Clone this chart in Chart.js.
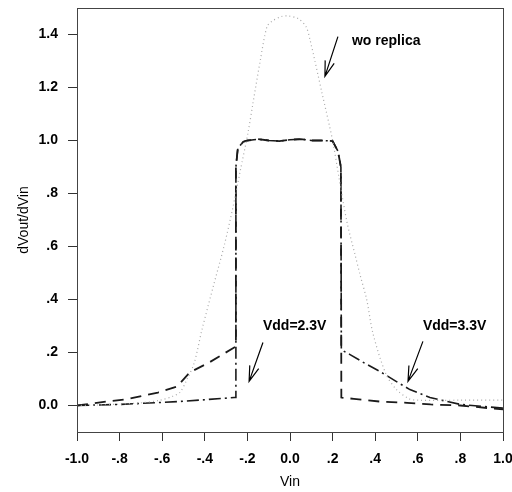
<!DOCTYPE html>
<html>
<head>
<meta charset="utf-8">
<script src="https://cdn.jsdelivr.net/npm/chart.js@4/dist/chart.umd.min.js"></script>
<style>
  html, body { margin: 0; padding: 0; background: #fff; }
  #wrap { width: 512px; height: 492px; }
</style>
</head>
<body>
<div id="wrap"><canvas id="chart" width="512" height="492"></canvas></div>
<script>
// tick positions and labels
const xTicks = [-1.0, -0.8, -0.6, -0.4, -0.2, 0.0, 0.2, 0.4, 0.6, 0.8, 1.0];
const xTickLabels = ['-1.0', '-.8', '-.6', '-.4', '-.2', '0.0', '.2', '.4', '.6', '.8', '1.0'];
const yTicks = [0.0, 0.2, 0.4, 0.6, 0.8, 1.0, 1.2, 1.4];
const yTickLabels = ['0.0', '.2', '.4', '.6', '.8', '1.0', '1.2', '1.4'];

// wo replica (dotted)
const vinWo = [-1.0, -0.9, -0.8, -0.7, -0.61, -0.55, -0.516, -0.484, -0.45, -0.413, -0.36, -0.31, -0.27, -0.235,
  -0.197, -0.174, -0.14, -0.108, -0.085, -0.04, -0.009, 0.038, 0.075, 0.094, 0.15, 0.2, 0.23, 0.268, 0.305,
  0.33, 0.36, 0.39, 0.45, 0.5, 0.56, 0.6, 0.8, 1.0];
const dvWo = [0.0, 0.002, 0.005, 0.01, 0.02, 0.035, 0.05, 0.098, 0.16, 0.287, 0.45, 0.60, 0.74, 0.88,
  1.03, 1.14, 1.30, 1.43, 1.45, 1.468, 1.47, 1.46, 1.43, 1.38, 1.18, 1.0, 0.86, 0.69, 0.57,
  0.49, 0.40, 0.27, 0.12, 0.06, 0.025, 0.02, 0.02, 0.02];

// Vdd = 2.3V (long dashes)
const vin23 = [-1.0, -0.86, -0.77, -0.62, -0.53, -0.47, -0.38, -0.262, -0.254, -0.254, -0.245, -0.22, -0.2,
  -0.15, -0.1, -0.05, 0.0, 0.05, 0.1, 0.15, 0.2, 0.225, 0.239, 0.241, 0.3, 0.42, 0.55, 0.66, 0.8, 1.0];
const dv23 = [0.0, 0.015, 0.023, 0.049, 0.072, 0.125, 0.162, 0.219, 0.222, 0.9, 0.97, 0.995, 1.0,
  1.005, 1.0, 0.998, 1.003, 1.005, 1.0, 1.0, 0.998, 0.96, 0.9, 0.03, 0.025, 0.015, 0.01, 0.004, 0.0, -0.015];

// Vdd = 3.3V (dash-dot)
const vin33 = [-1.0, -0.8, -0.62, -0.5, -0.38, -0.262, -0.254, -0.254, -0.245, -0.22, -0.2,
  -0.15, -0.1, -0.05, 0.0, 0.05, 0.1, 0.15, 0.2, 0.225, 0.239, 0.241, 0.282, 0.35, 0.423, 0.5, 0.563,
  0.657, 0.8, 0.9, 1.0];
const dv33 = [0.0, 0.004, 0.011, 0.016, 0.023, 0.03, 0.03, 0.9, 0.97, 0.995, 1.0,
  1.005, 1.0, 0.998, 1.003, 1.005, 1.0, 1.0, 0.998, 0.96, 0.9, 0.21, 0.192, 0.16, 0.128, 0.09, 0.06,
  0.03, 0.004, -0.003, -0.01];

// text notes with arrows, in data units
const notes = [
  { text: 'wo replica', x: 0.291, y: 1.374, from: [0.225, 1.392], to: [0.164, 1.242] },
  { text: 'Vdd=2.3V', x: -0.127, y: 0.298, from: [-0.127, 0.238], to: [-0.192, 0.091] },
  { text: 'Vdd=3.3V', x: 0.624, y: 0.298, from: [0.624, 0.242], to: [0.554, 0.091] }
];

function pairs(xs, ys) {
  return xs.map((x, i) => ({ x: x, y: ys[i] }));
}

const frameAndNotes = {
  id: 'frameAndNotes',
  afterDatasetsDraw(chart) {
    const ctx = chart.ctx;
    const a = chart.chartArea;
    const xs = chart.scales.x, ys = chart.scales.y;
    ctx.save();
    ctx.strokeStyle = '#444';
    ctx.lineWidth = 1;
    ctx.strokeRect(a.left + 0.5, a.top + 0.5, a.right - a.left, a.bottom - a.top);

    ctx.fillStyle = '#000';
    ctx.strokeStyle = '#000';
    ctx.font = 'bold 14px "Liberation Sans", Arial, sans-serif';
    ctx.textBaseline = 'middle';
    ctx.textAlign = 'left';
    notes.forEach(n => {
      ctx.fillText(n.text, xs.getPixelForValue(n.x), ys.getPixelForValue(n.y));
      const x1 = xs.getPixelForValue(n.from[0]), y1 = ys.getPixelForValue(n.from[1]);
      const x2 = xs.getPixelForValue(n.to[0]), y2 = ys.getPixelForValue(n.to[1]);
      ctx.lineWidth = 1.2;
      ctx.beginPath();
      ctx.moveTo(x1, y1);
      ctx.lineTo(x2, y2);
      const ang = Math.atan2(y2 - y1, x2 - x1);
      const len = 16, spread = 0.3;
      ctx.moveTo(x2 - len * Math.cos(ang - spread), y2 - len * Math.sin(ang - spread));
      ctx.lineTo(x2, y2);
      ctx.lineTo(x2 - len * Math.cos(ang + spread), y2 - len * Math.sin(ang + spread));
      ctx.stroke();
    });
    ctx.restore();
  }
};

const tickFont = { family: '"Liberation Sans", Arial, sans-serif', size: 14, weight: 'bold' };
const titleFont = { family: '"Liberation Sans", Arial, sans-serif', size: 14 };

new Chart(document.getElementById('chart'), {
  type: 'line',
  data: {
    datasets: [
      {
        label: 'wo replica',
        data: pairs(vinWo, dvWo),
        borderColor: '#a8a8a8',
        borderWidth: 1.2,
        borderDash: [1, 3],
        pointRadius: 0,
        tension: 0.3,
        fill: false
      },
      {
        label: 'Vdd=2.3V',
        data: pairs(vin23, dv23),
        borderColor: '#1a1a1a',
        borderWidth: 1.8,
        borderDash: [11, 7],
        pointRadius: 0,
        tension: 0,
        fill: false
      },
      {
        label: 'Vdd=3.3V',
        data: pairs(vin33, dv33),
        borderColor: '#1a1a1a',
        borderWidth: 1.6,
        borderDash: [12, 4, 2, 4],
        pointRadius: 0,
        tension: 0,
        fill: false
      }
    ]
  },
  options: {
    responsive: false,
    animation: false,
    layout: { padding: { left: 0, right: 9, top: 8, bottom: 0 } },
    plugins: {
      legend: { display: false },
      tooltip: { enabled: false }
    },
    scales: {
      x: {
        type: 'linear',
        min: -1.0,
        max: 1.0,
        border: { display: false },
        grid: { drawOnChartArea: false, drawTicks: true, tickLength: 9, color: '#333' },
        afterBuildTicks: axis => { axis.ticks = xTicks.map(v => ({ value: v })); },
        afterFit: axis => { axis.height = 60; axis.paddingLeft = 0; axis.paddingRight = 0; },
        ticks: {
          color: '#000',
          font: tickFont,
          padding: 10,
          maxRotation: 0,
          autoSkip: false,
          callback: (v, i) => xTickLabels[i]
        },
        title: { display: true, text: 'Vin', color: '#000', font: titleFont, padding: { top: 0, bottom: 1 } }
      },
      y: {
        type: 'linear',
        min: -0.1,
        max: 1.5,
        border: { display: false },
        grid: { drawOnChartArea: false, drawTicks: true, tickLength: 9, color: '#333' },
        afterBuildTicks: axis => { axis.ticks = yTicks.map(v => ({ value: v })); },
        afterFit: axis => { axis.width = 77; axis.paddingTop = 0; axis.paddingBottom = 0; },
        ticks: {
          color: '#000',
          font: tickFont,
          padding: 10,
          autoSkip: false,
          callback: (v, i) => yTickLabels[i]
        },
        title: { display: true, text: 'dVout/dVin', color: '#000', font: titleFont, padding: { top: 16, bottom: 0 } }
      }
    }
  },
  plugins: [frameAndNotes]
});
</script>
</body>
</html>
